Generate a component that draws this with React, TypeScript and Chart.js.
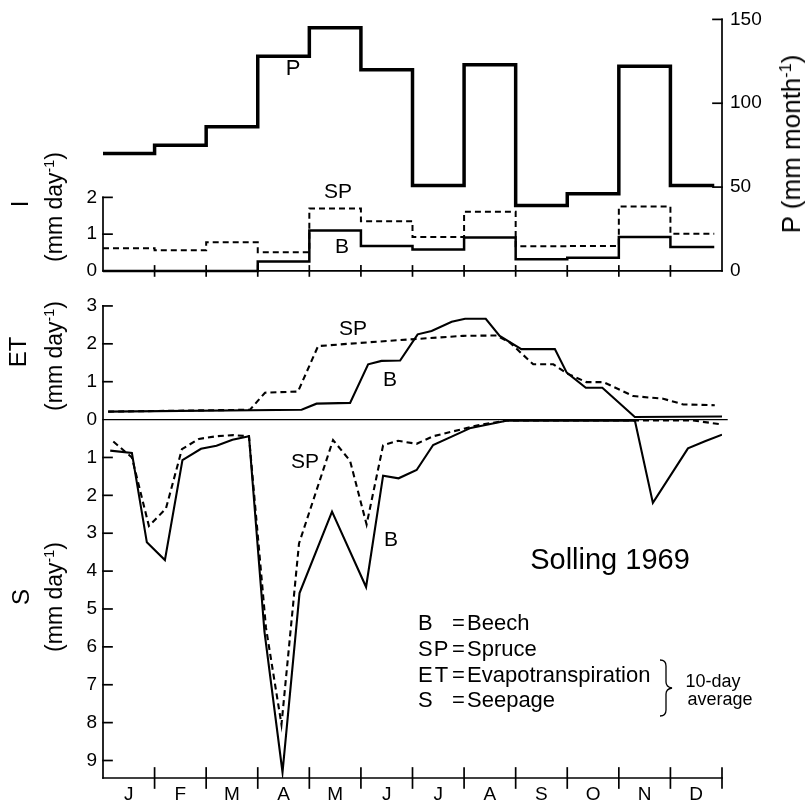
import React, { useEffect, useRef } from "react";
import { Chart, registerables } from "chart.js";

Chart.register(...registerables);

const FONT = "'Liberation Sans', Arial, sans-serif";

// Month initials along the time axis (x = month index, 0 = start of January)
const monthLabels = ["J", "F", "M", "A", "M", "J", "J", "A", "S", "O", "N", "D"];

// Monthly precipitation P (mm month-1)
const precipitation = [70, 75, 86, 128, 145, 120, 51, 123, 39, 46, 122, 51];

// Monthly interception I (mm day-1)
const interceptionBeech = [0, 0, 0, 0.26, 1.1, 0.68, 0.58, 0.91, 0.32, 0.36, 0.92, 0.65];
const interceptionSpruce = [0.62, 0.56, 0.78, 0.51, 1.7, 1.35, 0.92, 1.61, 0.67, 0.68, 1.75, 1.01];

// Evapotranspiration ET (mm day-1), 10-day averages
const etBeechTime = [0.1, 3.85, 4.14, 4.79, 5.14, 5.4, 5.76, 6.1, 6.37, 6.76, 7.02, 7.42, 7.69, 8.11, 8.76, 8.99, 9.36, 9.68, 10.31, 12.0];
const etBeech = [0.21, 0.26, 0.42, 0.44, 1.46, 1.55, 1.56, 2.25, 2.34, 2.58, 2.66, 2.66, 2.21, 1.86, 1.86, 1.24, 0.84, 0.84, 0.07, 0.08];
const etSpruceTime = [0.1, 2.85, 3.14, 3.78, 4.17, 4.75, 5.76, 6.98, 7.63, 7.89, 8.34, 8.73, 8.99, 9.37, 9.7, 10.28, 10.86, 11.25, 11.86];
const etSpruce = [0.21, 0.26, 0.71, 0.74, 1.94, 2.0, 2.1, 2.21, 2.22, 2.03, 1.46, 1.46, 1.22, 0.99, 0.99, 0.62, 0.55, 0.4, 0.38];

// Seepage S (mm day-1), 10-day averages
const seepBeechTime = [0.14, 0.56, 0.85, 1.2, 1.54, 1.9, 2.2, 2.51, 2.83, 3.13, 3.48, 3.81, 4.44, 5.1, 5.43, 5.73, 6.08, 6.4, 7.13, 7.82, 9.0, 10.31, 10.66, 11.34, 11.67, 12.0];
const seepBeech = [0.82, 0.88, 3.24, 3.71, 1.07, 0.77, 0.69, 0.53, 0.44, 5.6, 9.31, 4.58, 2.43, 4.42, 1.48, 1.55, 1.33, 0.67, 0.22, 0.03, 0.03, 0.02, 2.2, 0.76, 0.57, 0.4];
const seepSpruceTime = [0.2, 0.56, 0.89, 1.22, 1.53, 1.86, 2.2, 2.53, 2.83, 3.16, 3.46, 3.8, 4.46, 4.79, 5.11, 5.43, 5.72, 6.08, 6.4, 7.27, 7.85, 11.41, 11.96];
const seepSpruce = [0.58, 1.0, 2.81, 2.35, 0.78, 0.51, 0.44, 0.41, 0.44, 5.5, 8.05, 3.27, 0.54, 1.09, 2.77, 0.68, 0.56, 0.64, 0.44, 0.15, 0.02, 0.02, 0.12];

// Axis tick values
const pTicks = [0, 50, 100, 150];
const iTicks = [0, 1, 2];
const etTicks = [0, 1, 2, 3];
const sTicks = [1, 2, 3, 4, 5, 6, 7, 8, 9];

// Legend entries: abbreviation and meaning
const legendKeys = ["B", "SP", "ET", "S"];
const legendNames = ["Beech", "Spruce", "Evapotranspiration", "Seepage"];

// ---- layout (pixels) ----
const W = 806;
const H = 807;
const AREA = { left: 103, right: 722, top: 15, bottom: 778 };
const I_BOX_BOTTOM = 285; // I panel box: top .. 285
const ZERO_LINE = 417.5; // ET box: 285 .. zero line, S box: zero line .. bottom
const I_ZERO = 268;
const I_UNIT = 37; // px per mm day-1 in the I panel
const ES_UNIT = 38.1; // px per mm day-1 in the ET / S panels
const P_UNIT = (I_ZERO - AREA.top) / 150;
const STEP_END = 11.85;

const stepPoints = (vals: number[]) => {
  const pts = vals.map((v, i) => ({ x: i, y: v }));
  pts.push({ x: STEP_END, y: vals[vals.length - 1] });
  return pts;
};
const pairPoints = (xs: number[], ys: number[]) => xs.map((x, i) => ({ x, y: ys[i] }));

const setTicks = (values: number[]) => (scale: any) => {
  scale.ticks = values.map((v) => ({ value: v }));
};

const tickFont = { family: FONT, size: 19 };

// Draws the axis lines, inward tick marks and month tick marks
const framePlugin = {
  id: "frame",
  afterDatasetsDraw(chart: any) {
    const { ctx, scales } = chart;
    const { x, yI, yE, yS, yP } = scales;
    const L = x.getPixelForValue(0);
    const R = x.getPixelForValue(12);
    const seg = (x1: number, y1: number, x2: number, y2: number, w = 1.7) => {
      ctx.lineWidth = w;
      ctx.beginPath();
      ctx.moveTo(x1, y1);
      ctx.lineTo(x2, y2);
      ctx.stroke();
    };
    ctx.save();
    ctx.strokeStyle = "#000";
    ctx.lineCap = "square";

    // I panel: left axis and baseline
    const i0 = yI.getPixelForValue(0);
    const i2 = yI.getPixelForValue(2);
    seg(L, i2, L, i0);
    iTicks.forEach((v) => { if (v > 0) seg(L, yI.getPixelForValue(v), L + 9, yI.getPixelForValue(v)); });
    seg(L, i0, R, i0);
    for (let m = 1; m < 12; m++) {
      const px = x.getPixelForValue(m);
      seg(px, i0 - 5, px, i0 + 5);
    }

    // P axis on the right
    const p0 = yP.getPixelForValue(0);
    const p150 = yP.getPixelForValue(150);
    seg(R, p0, R, p150);
    pTicks.forEach((v) => { if (v > 0) seg(R - 9, yP.getPixelForValue(v), R, yP.getPixelForValue(v)); });

    // ET / S axis
    const e3 = yE.getPixelForValue(3);
    const bottom = chart.chartArea.bottom;
    seg(L, e3, L, bottom);
    etTicks.forEach((v) => { if (v > 0) seg(L, yE.getPixelForValue(v), L + 9, yE.getPixelForValue(v)); });
    sTicks.forEach((v) => seg(L, yS.getPixelForValue(v), L + 9, yS.getPixelForValue(v)));

    // zero line between ET and S
    const z = yE.getPixelForValue(0);
    seg(L, z, R + 5, z, 1.4);

    // bottom time axis with month ticks
    seg(L, bottom, R, bottom);
    for (let m = 1; m <= 12; m++) {
      const px = x.getPixelForValue(m);
      seg(px, bottom - 10, px, bottom + 10);
    }
    ctx.restore();
  },
};

const solid = (w: number) => ({ borderColor: "#000", borderWidth: w, pointRadius: 0, tension: 0, fill: false, borderCapStyle: "butt" as const });
const dashed = (w: number) => ({ ...solid(w), borderDash: [6, 4] });

const Txt = ({ x, y, size, children, anchor = "center", rotate = false, style = {} }: any) => (
  <div
    style={{
      position: "absolute",
      left: x,
      top: y,
      transform: `translate(${anchor === "left" ? "0" : "-50%"}, -50%)${rotate ? " rotate(-90deg)" : ""}`,
      fontSize: size,
      lineHeight: 1,
      whiteSpace: "nowrap",
      ...style,
    }}
  >
    {children}
  </div>
);

const Unit = ({ word }: { word: string }) => (
  <span>
    (mm {word}
    <sup style={{ fontSize: "0.62em", verticalAlign: "0.55em", lineHeight: 0 }}>-1</sup>)
  </span>
);

export default function App() {
  const ref = useRef<HTMLCanvasElement>(null);

  useEffect(() => {
    const chart = new Chart(ref.current as HTMLCanvasElement, {
      type: "line",
      data: {
        datasets: [
          { label: "P", data: stepPoints(precipitation), yAxisID: "yP", stepped: "before", ...solid(3.5) },
          { label: "I B", data: stepPoints(interceptionBeech), yAxisID: "yI", stepped: "before", ...solid(2.5) },
          { label: "I SP", data: stepPoints(interceptionSpruce), yAxisID: "yI", stepped: "before", ...dashed(2) },
          { label: "ET B", data: pairPoints(etBeechTime, etBeech), yAxisID: "yE", ...solid(2.1) },
          { label: "ET SP", data: pairPoints(etSpruceTime, etSpruce), yAxisID: "yE", ...dashed(2.1) },
          { label: "S B", data: pairPoints(seepBeechTime, seepBeech), yAxisID: "yS", ...solid(2.1) },
          { label: "S SP", data: pairPoints(seepSpruceTime, seepSpruce), yAxisID: "yS", ...dashed(2.1) },
        ] as any,
      },
      options: {
        responsive: false,
        animation: false,
        events: [],
        layout: { padding: { top: AREA.top, left: 0, right: 0, bottom: 0 } },
        plugins: { legend: { display: false }, tooltip: { enabled: false } },
        scales: {
          x: {
            type: "linear",
            min: 0,
            max: 12,
            position: "bottom",
            grid: { display: false, drawTicks: false },
            border: { display: false },
            afterBuildTicks: setTicks(monthLabels.map((_, i) => i + 0.5)),
            afterFit: (s: any) => { s.height = H - AREA.bottom; },
            ticks: {
              autoSkip: false,
              maxRotation: 0,
              padding: 5,
              color: "#000",
              font: tickFont,
              callback: (v: any) => monthLabels[Math.floor(Number(v))],
            },
          },
          yI: {
            type: "linear",
            position: "left",
            stack: "left",
            stackWeight: I_BOX_BOTTOM - AREA.top,
            weight: 3,
            min: -(I_BOX_BOTTOM - I_ZERO) / I_UNIT,
            max: (I_ZERO - AREA.top) / I_UNIT,
            grid: { display: false, drawTicks: false },
            border: { display: false },
            afterBuildTicks: setTicks(iTicks),
            afterFit: (s: any) => { s.width = AREA.left; },
            ticks: { padding: 6, color: "#000", font: tickFont, autoSkip: false },
          },
          yE: {
            type: "linear",
            position: "left",
            stack: "left",
            stackWeight: ZERO_LINE - I_BOX_BOTTOM,
            weight: 2,
            min: 0,
            max: (ZERO_LINE - I_BOX_BOTTOM) / ES_UNIT,
            grid: { display: false, drawTicks: false },
            border: { display: false },
            afterBuildTicks: setTicks(etTicks),
            afterFit: (s: any) => { s.width = AREA.left; },
            ticks: { padding: 6, color: "#000", font: tickFont, autoSkip: false },
          },
          yS: {
            type: "linear",
            position: "left",
            stack: "left",
            stackWeight: AREA.bottom - ZERO_LINE,
            weight: 1,
            reverse: true,
            min: 0,
            max: (AREA.bottom - ZERO_LINE) / ES_UNIT,
            grid: { display: false, drawTicks: false },
            border: { display: false },
            afterBuildTicks: setTicks(sTicks),
            afterFit: (s: any) => { s.width = AREA.left; },
            ticks: { padding: 6, color: "#000", font: tickFont, autoSkip: false },
          },
          yP: {
            type: "linear",
            position: "right",
            min: -(AREA.bottom - I_ZERO) / P_UNIT,
            max: 150,
            grid: { display: false, drawTicks: false },
            border: { display: false },
            afterBuildTicks: setTicks(pTicks),
            afterFit: (s: any) => { s.width = W - AREA.right; },
            ticks: { padding: 8, color: "#000", font: tickFont, autoSkip: false },
          },
        },
      } as any,
      plugins: [framePlugin],
    });
    return () => chart.destroy();
  }, []);

  const legendRows = [623, 649, 675, 700];

  return (
    <div style={{ position: "fixed", left: 0, top: 0, width: W, height: H, background: "#fff", fontFamily: FONT, color: "#000", overflow: "hidden" }}>
      <canvas ref={ref} width={W} height={H} style={{ display: "block" }} />

      {/* axis titles */}
      <Txt x={20} y={204} size={24} rotate>I</Txt>
      <Txt x={54} y={207} size={23} rotate><Unit word="day" /></Txt>
      <Txt x={18} y={352} size={24} rotate>ET</Txt>
      <Txt x={54} y={356} size={23} rotate><Unit word="day" /></Txt>
      <Txt x={21} y={597} size={24} rotate>S</Txt>
      <Txt x={54} y={597} size={23} rotate><Unit word="day" /></Txt>
      <Txt x={791} y={144} size={26} rotate>P <Unit word="month" /></Txt>

      {/* series labels */}
      <Txt x={293} y={68} size={22}>P</Txt>
      <Txt x={338} y={190} size={21}>SP</Txt>
      <Txt x={342} y={245} size={21}>B</Txt>
      <Txt x={353} y={327} size={21}>SP</Txt>
      <Txt x={390} y={378} size={21}>B</Txt>
      <Txt x={305} y={460} size={21}>SP</Txt>
      <Txt x={391} y={538} size={21}>B</Txt>

      {/* site and legend */}
      <Txt x={610} y={559} size={29}>Solling 1969</Txt>
      {legendKeys.map((k, i) => (
        <React.Fragment key={k}>
          <Txt x={418} y={legendRows[i]} size={22} anchor="left" style={{ letterSpacing: k === "ET" ? 2 : 1 }}>{k}</Txt>
          <Txt x={452} y={legendRows[i]} size={22} anchor="left">=</Txt>
          <Txt x={467} y={legendRows[i]} size={22} anchor="left">{legendNames[i]}</Txt>
        </React.Fragment>
      ))}
      <svg width={16} height={58} style={{ position: "absolute", left: 659, top: 659 }}>
        <path d="M1 1 Q7 1 7 7 L7 23 Q7 28 13 29 Q7 30 7 35 L7 51 Q7 57 1 57" fill="none" stroke="#000" strokeWidth={1.3} />
      </svg>
      <Txt x={713} y={681} size={18}>10-day</Txt>
      <Txt x={720} y={699} size={18}>average</Txt>
    </div>
  );
}
